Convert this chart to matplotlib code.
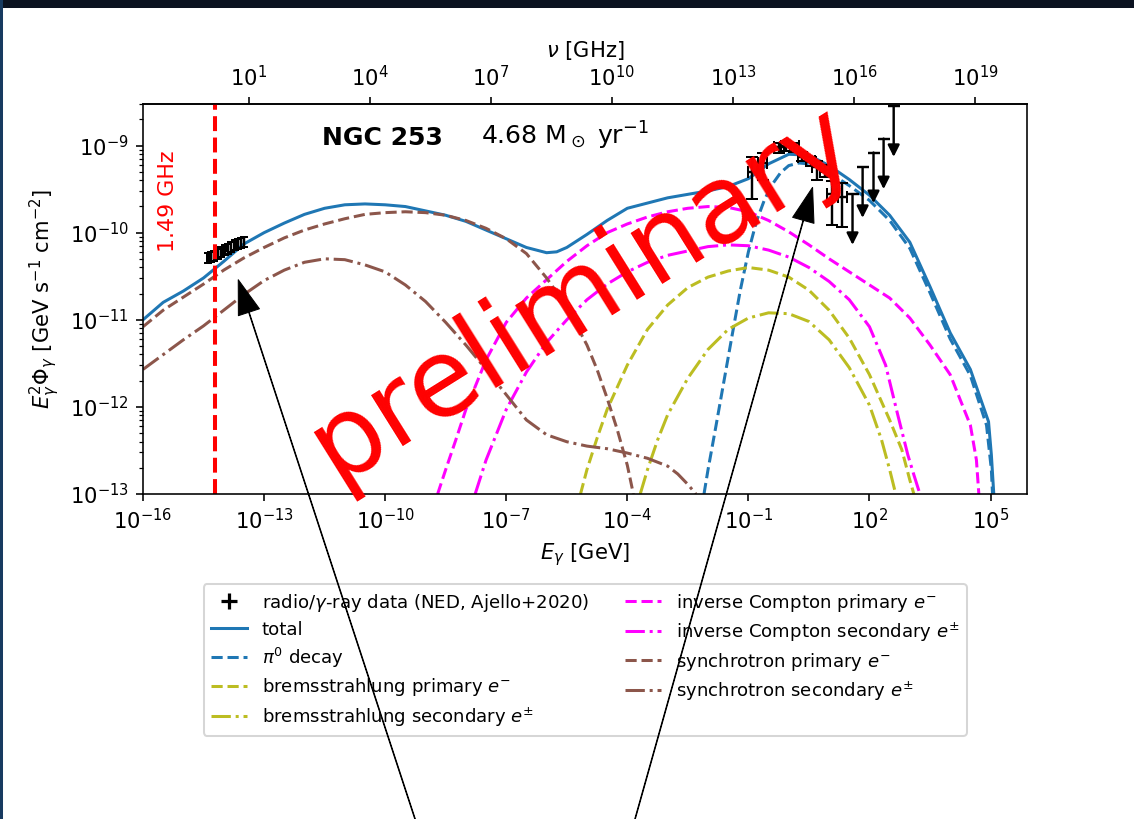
import numpy as np
import matplotlib
matplotlib.use("Agg")
import matplotlib.pyplot as plt
from matplotlib.lines import Line2D
from matplotlib.patches import Rectangle

# Planck constant in GeV s, used for the frequency axis on top
H_GEV_S = 4.135667e-24
NU_LINE_GHZ = 1.49

# model components, log10(E / GeV) and log10(E^2 Phi / GeV s^-1 cm^-2)
total_logE = [-16.0, -15.5, -15.0, -14.5, -14.0, -13.5, -13.0, -12.5, -12.0, -11.5,
              -11.0, -10.5, -10.0, -9.5, -9.0, -8.5, -8.0, -7.5, -7.0, -6.5,
              -6.0, -5.75, -5.5, -5.0, -4.5, -4.0, -3.5, -3.0, -2.5, -2.0,
              -1.5, -1.0, -0.5, 0.0, 0.5, 1.0, 1.5, 2.0, 2.5, 3.0,
              3.5, 4.0, 4.5, 4.95, 5.02, 5.08, 5.12]
total_logF = [-11.00, -10.80, -10.67, -10.52, -10.33, -10.13, -10.00, -9.89, -9.79, -9.72,
              -9.68, -9.67, -9.68, -9.70, -9.75, -9.80, -9.87, -9.97, -10.07, -10.17,
              -10.23, -10.22, -10.17, -10.02, -9.86, -9.72, -9.66, -9.60, -9.56, -9.52,
              -9.47, -9.38, -9.21, -9.10, -9.11, -9.23, -9.39, -9.57, -9.80, -10.11,
              -10.62, -11.15, -11.57, -12.17, -12.55, -13.00, -13.50]

pi0_logE = [-2.1, -2.0, -1.8, -1.6, -1.4, -1.2, -1.0, -0.8, -0.6, -0.4,
            -0.2, 0.0, 0.25, 0.5, 0.75, 1.0, 1.5, 2.0, 2.5, 3.0,
            3.5, 4.0, 4.5, 4.9, 5.02, 5.08]
pi0_logF = [-13.00, -12.72, -12.21, -11.69, -11.17, -10.66, -10.22, -9.87, -9.62, -9.44,
            -9.31, -9.23, -9.20, -9.21, -9.25, -9.31, -9.46, -9.63, -9.86, -10.18,
            -10.69, -11.22, -11.64, -12.21, -12.72, -13.30]

ic_pri_logE = [-8.7, -8.5, -8.25, -8.0, -7.5, -7.0, -6.5, -6.0, -5.5, -5.0,
               -4.5, -4.0, -3.5, -3.0, -2.5, -2.0, -1.5, -1.0, -0.5, 0.0,
               0.5, 1.0, 1.5, 2.0, 2.5, 3.0, 3.5, 4.0, 4.5, 4.65, 4.71]
ic_pri_logF = [-13.00, -12.72, -12.38, -12.03, -11.46, -11.03, -10.75, -10.54, -10.33, -10.15,
               -10.00, -9.90, -9.82, -9.76, -9.72, -9.70, -9.71, -9.76, -9.86, -9.99,
               -10.14, -10.30, -10.45, -10.60, -10.75, -10.98, -11.29, -11.63, -12.21, -12.61, -13.00]

ic_sec_logE = [-7.77, -7.5, -7.0, -6.5, -6.0, -5.5, -5.0, -4.5, -4.0, -3.5,
               -3.0, -2.5, -2.0, -1.5, -1.0, -0.5, 0.0, 0.5, 1.0, 1.5,
               2.0, 2.4, 2.7, 2.95, 3.1, 3.25]
ic_sec_logF = [-13.00, -12.61, -12.03, -11.60, -11.26, -11.00, -10.77, -10.59, -10.45, -10.34,
               -10.26, -10.21, -10.16, -10.14, -10.15, -10.20, -10.28, -10.40, -10.56, -10.77,
               -11.08, -11.52, -12.09, -12.55, -12.78, -13.00]

brems_pri_logE = [-5.16, -5.0, -4.75, -4.5, -4.0, -3.5, -3.0, -2.5, -2.0, -1.5,
                  -1.0, -0.5, 0.0, 0.5, 1.0, 1.5, 2.0, 2.5, 2.8, 3.0, 3.1]
brems_pri_logF = [-13.00, -12.72, -12.36, -12.03, -11.52, -11.11, -10.83, -10.63, -10.51, -10.44,
                  -10.40, -10.43, -10.51, -10.66, -10.89, -11.21, -11.63, -12.15, -12.49, -12.84, -13.00]

brems_sec_logE = [-3.68, -3.5, -3.25, -3.0, -2.5, -2.0, -1.5, -1.0, -0.5, 0.0,
                  0.5, 1.0, 1.5, 2.0, 2.3, 2.5, 2.65]
brems_sec_logF = [-13.00, -12.72, -12.38, -12.09, -11.67, -11.34, -11.11, -10.98, -10.92, -10.93,
                  -11.02, -11.23, -11.55, -11.98, -12.38, -12.72, -13.00]

sync_pri_logE = [-16.0, -15.5, -15.0, -14.5, -14.0, -13.5, -13.0, -12.5, -12.0, -11.5,
                 -11.0, -10.5, -10.0, -9.5, -9.0, -8.5, -8.0, -7.5, -7.0, -6.5,
                 -6.0, -5.5, -5.0, -4.75, -4.5, -4.25, -4.0, -3.85]
sync_pri_logF = [-11.08, -10.89, -10.74, -10.59, -10.43, -10.29, -10.17, -10.06, -9.97, -9.90,
                 -9.84, -9.79, -9.77, -9.76, -9.77, -9.80, -9.86, -9.95, -10.07, -10.24,
                 -10.52, -10.85, -11.29, -11.57, -11.90, -12.26, -12.67, -13.00]

sync_sec_logE = [-16.0, -15.5, -15.0, -14.5, -14.0, -13.5, -13.0, -12.5, -12.0, -11.5,
                 -11.0, -10.5, -10.0, -9.5, -9.0, -8.5, -8.0, -7.5, -7.0, -6.5,
                 -6.0, -5.5, -5.0, -4.5, -4.0, -3.5, -3.0, -2.75, -2.5, -2.3]
sync_sec_logF = [-11.57, -11.40, -11.23, -11.07, -10.89, -10.71, -10.55, -10.43, -10.34, -10.30,
                 -10.31, -10.37, -10.45, -10.60, -10.79, -11.03, -11.29, -11.57, -11.86, -12.15,
                 -12.32, -12.40, -12.45, -12.48, -12.53, -12.59, -12.68, -12.77, -12.89, -13.00]

# radio data (NED)
radio_logE = [-14.40, -14.32, -14.24, -14.15, -14.06, -13.98, -13.90, -13.82, -13.73, -13.65,
              -13.57, -13.50]
radio_logF = [-10.29, -10.28, -10.26, -10.24, -10.22, -10.20, -10.18, -10.16, -10.14, -10.13,
              -10.11, -10.10]
radio_rel_err = 0.13

# gamma-ray data (Ajello+2020): centre, lower and upper edge of the flux bars
gamma_logE = [-0.90, -0.65, -0.25, -0.06, 0.14, 0.34, 0.54, 0.69, 0.89, 1.08, 1.33]
gamma_logF = [-9.30, -9.20, -9.02, -9.00, -9.01, -9.13, -9.18, -9.25, -9.28, -9.56, -9.59]
gamma_logF_lo = [-9.61, -9.39, -9.08, -9.06, -9.07, -9.18, -9.24, -9.39, -9.36, -9.91, -9.93]
gamma_logF_hi = [-9.13, -9.08, -8.97, -8.95, -8.97, -9.07, -9.13, -9.18, -9.22, -9.41, -9.43]
gamma_bin_half = 0.12

# upper limits
ul_logE = [1.58, 1.83, 2.10, 2.35, 2.60]
ul_logF = [-9.56, -9.25, -9.08, -8.92, -8.55]
ul_arrow_dec = 0.58

# points the two pointer arrows aim at (data coords)
radio_pointer = (10**-13.64, 10**-10.54)
gamma_pointer = (10**0.59, 10**-9.48)


def gev_to_ghz(e):
    return np.asarray(e) / H_GEV_S / 1e9


def ghz_to_gev(nu):
    return np.asarray(nu) * 1e9 * H_GEV_S


def p10(v):
    return 10.0 ** np.asarray(v)


fig = plt.figure(figsize=(1134 / 145, 819 / 145), dpi=145)
fig.patch.set_facecolor('white')
ax = fig.add_axes([143 / 1134, 1 - 494 / 819, 884 / 1134, 390 / 819])

# model curves
ax.plot(p10(total_logE), p10(total_logF), color='C0', ls='-', lw=1.5)
ax.plot(p10(pi0_logE), p10(pi0_logF), color='C0', ls='--', lw=1.5)
ax.plot(p10(brems_pri_logE), p10(brems_pri_logF), color='C8', ls='--', lw=1.5)
ax.plot(p10(brems_sec_logE), p10(brems_sec_logF), color='C8', ls='-.', lw=1.5)
ax.plot(p10(ic_pri_logE), p10(ic_pri_logF), color='magenta', ls='--', lw=1.5)
ax.plot(p10(ic_sec_logE), p10(ic_sec_logF), color='magenta', ls='-.', lw=1.5)
ax.plot(p10(sync_pri_logE), p10(sync_pri_logF), color='C5', ls='--', lw=1.5)
ax.plot(p10(sync_sec_logE), p10(sync_sec_logF), color='C5', ls='-.', lw=1.5)

# radio points
rE = p10(radio_logE)
rF = p10(radio_logF)
ax.errorbar(rE, rF, yerr=radio_rel_err * rF, xerr=0.02 * rE, fmt='none',
            ecolor='k', elinewidth=1.2, capsize=2)

# gamma points
gE = p10(gamma_logE)
gF = p10(gamma_logF)
g_xerr = [gE - gE * 10**-gamma_bin_half, gE * 10**gamma_bin_half - gE]
g_yerr = [gF - p10(gamma_logF_lo), p10(gamma_logF_hi) - gF]
ax.errorbar(gE, gF, xerr=g_xerr, yerr=g_yerr, fmt='none', ecolor='k',
            elinewidth=1.2, capsize=3)

# upper limits: cap at the limit, arrow pointing down
uE = p10(ul_logE)
uF = p10(ul_logF)
ax.plot(uE, uF, ls='none', marker='_', ms=6, mew=1.2, color='k')
for e, f in zip(uE, uF):
    ax.annotate('', xy=(e, f * 10**-ul_arrow_dec), xytext=(e, f),
                arrowprops=dict(arrowstyle='-|>', color='k', lw=1.2,
                                mutation_scale=12, shrinkA=0, shrinkB=0))

# 1.49 GHz marker
ax.axvline(ghz_to_gev(NU_LINE_GHZ), color='red', ls='--', lw=2)
ax.text(0.028, 0.882, f'{NU_LINE_GHZ} GHz', color='red', fontsize=11, rotation=90,
        ha='center', va='top', transform=ax.transAxes)

ax.text(0.202, 0.895, 'NGC 253', fontsize=12.5, weight='bold', va='baseline',
        transform=ax.transAxes)
ax.text(0.382, 0.895, r'4.68 M$_\odot$ yr$^{-1}$', fontsize=12.5, va='baseline',
        transform=ax.transAxes)

ax.set_xscale('log')
ax.set_yscale('log')
ax.set_xlim(1e-16, 8e5)
ax.set_ylim(1e-13, 3e-9)
ax.set_xticks(p10(np.arange(-16, 6, 3)))
ax.tick_params(labelsize=10.5)
ax.set_xlabel(r'$E_\gamma$ [GeV]', fontsize=10.5)
ax.set_ylabel(r'$E_\gamma^2\Phi_\gamma$ [GeV s$^{-1}$ cm$^{-2}$]', fontsize=10.5)

secax = ax.secondary_xaxis('top', functions=(gev_to_ghz, ghz_to_gev))
secax.set_xticks(p10(np.arange(1, 20, 3)))
secax.tick_params(labelsize=10.5)
secax.set_xlabel(r'$\nu$ [GHz]', fontsize=10.5)

handles = [
    Line2D([], [], color='k', marker='+', ls='none', ms=8, mew=1.6),
    Line2D([], [], color='C0', ls='-', lw=1.5),
    Line2D([], [], color='C0', ls='--', lw=1.5),
    Line2D([], [], color='C8', ls='--', lw=1.5),
    Line2D([], [], color='C8', ls='-.', lw=1.5),
    Line2D([], [], color='magenta', ls='--', lw=1.5),
    Line2D([], [], color='magenta', ls='-.', lw=1.5),
    Line2D([], [], color='C5', ls='--', lw=1.5),
    Line2D([], [], color='C5', ls='-.', lw=1.5),
]
labels = [
    r'radio/$\gamma$-ray data (NED, Ajello+2020)',
    'total',
    r'$\pi^0$ decay',
    r'bremsstrahlung primary $e^{-}$',
    r'bremsstrahlung secondary $e^{\pm}$',
    r'inverse Compton primary $e^{-}$',
    r'inverse Compton secondary $e^{\pm}$',
    r'synchrotron primary $e^{-}$',
    r'synchrotron secondary $e^{\pm}$',
]
leg = ax.legend(handles, labels, loc='upper center', ncol=2, fontsize=9,
                labelspacing=0.38, bbox_to_anchor=(0.516, 0.2975),
                bbox_transform=fig.transFigure)
leg.set_zorder(5)

# pointer arrows coming up from below the figure
pointer_kw = dict(facecolor='k', edgecolor='k', width=0.3, headwidth=11,
                  headlength=17, shrink=0.0, lw=0.5)
ax.annotate('', xy=radio_pointer, xycoords='data', xytext=(0.366, 0.0),
            textcoords='figure fraction', arrowprops=pointer_kw,
            annotation_clip=False, zorder=10)
ax.annotate('', xy=gamma_pointer, xycoords='data', xytext=(0.560, 0.0),
            textcoords='figure fraction', arrowprops=pointer_kw,
            annotation_clip=False, zorder=10)

fig.text(0.513, 0.642, 'preliminary', color='red', fontsize=54, rotation=32,
         ha='center', va='center', zorder=20)

# slide frame edges
fig.patches.append(Rectangle((0, 1 - 7 / 819), 1, 7 / 819, transform=fig.transFigure,
                             color='#0b1220', zorder=30))
fig.patches.append(Rectangle((0, 0), 2 / 1134, 1, transform=fig.transFigure,
                             color='#173a60', zorder=30))

fig.savefig('out.png', dpi=145)
